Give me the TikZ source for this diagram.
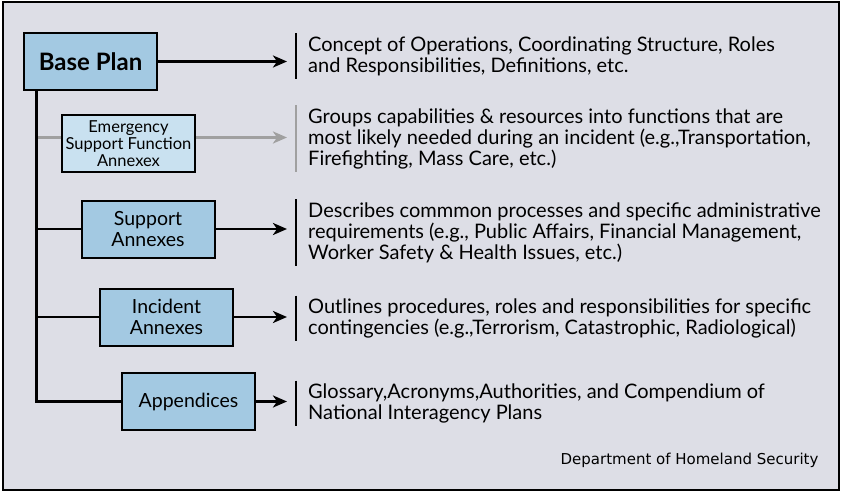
\documentclass[tikz,border=0pt]{standalone}
\usepackage{fontspec}
\setmainfont{Lato}
\newfontfamily\dhsfont{DejaVu Sans}
\usetikzlibrary{arrows.meta}

\definecolor{bgcol}{RGB}{221,222,230}
\definecolor{boxcol}{RGB}{163,201,226}
\definecolor{esfcol}{RGB}{201,225,240}
\definecolor{faint}{RGB}{160,160,160}

\begin{document}
\begin{tikzpicture}[x=1pt,y=-1pt,
  annex/.style={draw, line width=2pt, fill=boxcol, minimum width=133pt, minimum height=57pt,
    inner sep=0pt, align=center, font=\fontsize{19.5}{21}\selectfont},
  desc/.style={anchor=west, align=left, inner xsep=12pt, inner ysep=3pt,
    font=\fontsize{20}{21}\selectfont},
  link/.style={line width=2.5pt},
  tip/.style={line width=2.5pt, -{Stealth[length=14pt,width=12pt,inset=4pt]}, shorten >=9pt},
  bar/.style={line width=2pt}]
	%\draw[help lines] (0,0) grid[step=50] (841,492);
	\useasboundingbox (0,0) rectangle (841,492);
	\draw[line width=2.5pt, fill=bgcol] (3,2) rectangle (839,490);

	% the annexes
	\node[annex, font=\bfseries\fontsize{24}{26}\selectfont] (base) at (90.5,61.5) {Base Plan};
	\node[annex, fill=esfcol, font=\fontsize{16.5}{17}\selectfont] (esf) at (128.5,143.5) {Emergency\\Support Function\\Annexex};
	\node[annex] (support) at (148,229) {Support\\Annexes};
	\node[annex] (incident) at (166.5,317) {Incident\\Annexes};
	\node[annex] (append) at (188.5,401.5) {Appendices};

	% what they hold
	\node[desc] (baseTxt) at (296,56) {Concept of Operations, Coordinating Structure, Roles\\and Responsibilities, Definitions, etc.};
	\node[desc] (esfTxt) at (296,138.5) {Groups capabilities \& resources into functions that are\\most likely needed during an incident (e.g.,Transportation,\\Firefighting, Mass Care, etc.)};
	\node[desc] (supportTxt) at (296,232.5) {Describes commmon processes and specific administrative\\requirements (e.g., Public Affairs, Financial Management,\\Worker Safety \& Health Issues, etc.)};
	\node[desc] (incidentTxt) at (296,318.5) {Outlines procedures, roles and responsibilities for specific\\contingencies (e.g.,Terrorism, Catastrophic, Radiological)};
	\node[desc] (appendTxt) at (296,403.5) {Glossary,Acronyms,Authorities, and Compendium of\\National Interagency Plans};

	\draw[bar] (baseTxt.north west) -- (baseTxt.south west);
	\draw[bar, faint] (esfTxt.north west) -- (esfTxt.south west);
	\draw[bar] (supportTxt.north west) -- (supportTxt.south west);
	\draw[bar] (incidentTxt.north west) -- (incidentTxt.south west);
	\draw[bar] (appendTxt.north west) -- (appendTxt.south west);

	% trunk and branches
	\coordinate (top) at ([xshift=13pt]base.south west);
	\coordinate (esfIn) at ([yshift=6pt]esf.west);
	\coordinate (esfOut) at ([yshift=6pt]esf.east);
	\draw[link, faint] (top |- esfIn) -- (esfIn);
	\draw[link, line width=3pt] (top) -- (top |- append.west) -- (append.west);
	\draw[link] (top |- support.west) -- (support.west);
	\draw[link] (top |- incident.west) -- (incident.west);

	% arrows
	\draw[tip] (base.east) -- (base.east -| baseTxt.west);
	\draw[tip, faint] (esfOut) -- (esfOut -| esfTxt.west);
	\draw[tip] (support.east) -- (support.east -| supportTxt.west);
	\draw[tip] (incident.east) -- (incident.east -| incidentTxt.west);
	\draw[tip] (append.east) -- (append.east -| appendTxt.west);

	\node[anchor=east, font=\dhsfont\fontsize{15}{17}\selectfont] (credit) at (822,460) {Department of Homeland Security};
\end{tikzpicture}
\end{document}
